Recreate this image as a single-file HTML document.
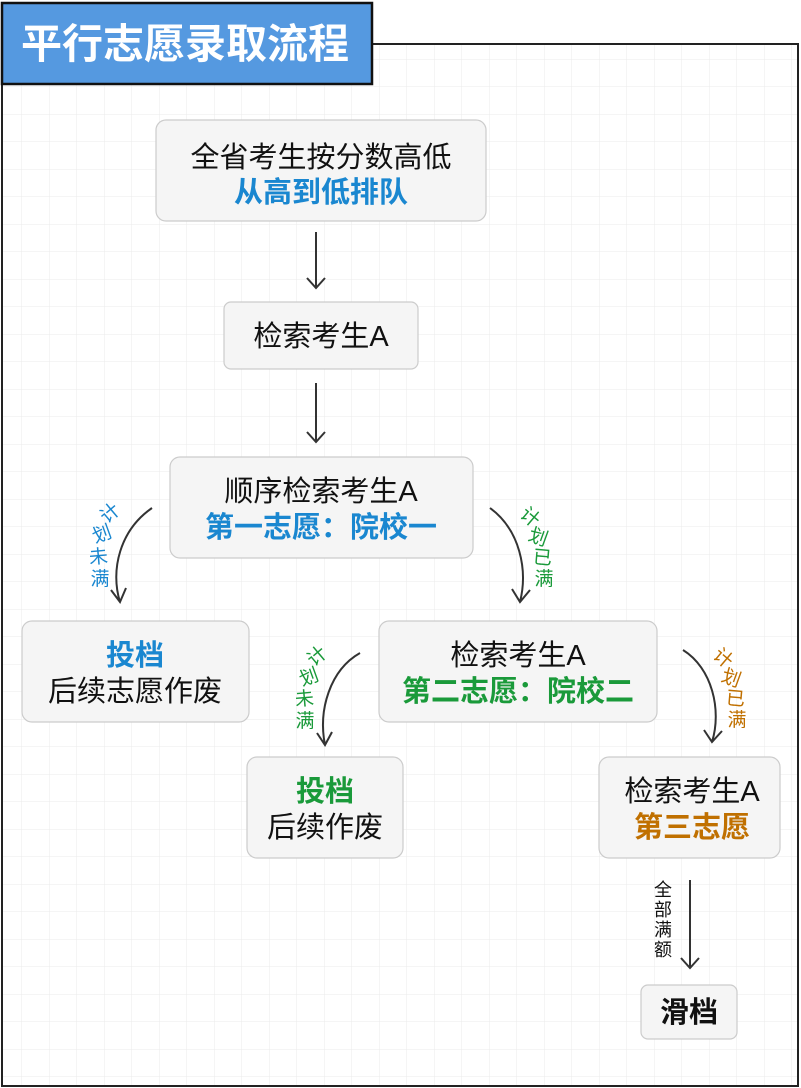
<!DOCTYPE html>
<html><head><meta charset="utf-8"><style>
html,body{margin:0;padding:0;background:#fff}
svg{display:block;font-family:"Liberation Sans","Noto Sans CJK SC",sans-serif}
</style></head><body>
<svg width="801" height="1088" viewBox="0 0 801 1088" xmlns="http://www.w3.org/2000/svg">
<defs>
<pattern id="g" width="27.5" height="27.5" patternUnits="userSpaceOnUse" x="21.5" y="4">
<path d="M0 0H27.5M0 0V27.5" stroke="#ebebeb" stroke-width="1" fill="none"/>
</pattern>
</defs>
<rect x="2" y="44" width="796" height="1042" fill="url(#g)" stroke="#222" stroke-width="2"/>
<rect x="2" y="3" width="370" height="81" fill="#5599e0" stroke="#111" stroke-width="2.5"/>
<text x="185" y="58" font-size="41" font-weight="bold" fill="#fff" text-anchor="middle">平行志愿录取流程</text>

<g fill="#f5f5f5" stroke="#cccccc" stroke-width="1.2">
<rect x="156" y="120" width="330" height="101" rx="10"/>
<rect x="224" y="302" width="194" height="67" rx="7"/>
<rect x="170" y="457" width="303" height="101" rx="10"/>
<rect x="22" y="621" width="227" height="101" rx="10"/>
<rect x="379" y="621" width="278" height="101" rx="10"/>
<rect x="247" y="757" width="156" height="101" rx="10"/>
<rect x="599" y="757" width="181" height="101" rx="10"/>
<rect x="641" y="985" width="96" height="54" rx="7"/>
</g>
<g font-size="29" text-anchor="middle" fill="#111">
<text x="321" y="167">全省考生按分数高低</text>
<text x="321" y="202" fill="#1a87d0" font-weight="bold">从高到低排队</text>
<text x="321" y="346">检索考生A</text>
<text x="321" y="501">顺序检索考生A</text>
<text x="321" y="537" fill="#1a87d0" font-weight="bold">第一志愿：院校一</text>
<text x="135" y="665" fill="#1a87d0" font-weight="bold">投档</text>
<text x="135" y="701">后续志愿作废</text>
<text x="518" y="665">检索考生A</text>
<text x="518" y="701" fill="#1a9a3a" font-weight="bold">第二志愿：院校二</text>
<text x="325" y="801" fill="#1a9a3a" font-weight="bold">投档</text>
<text x="325" y="837">后续作废</text>
<text x="692" y="801">检索考生A</text>
<text x="692" y="837" fill="#c07000" font-weight="bold">第三志愿</text>
<text x="689" y="1022" font-weight="bold">滑档</text>
</g>
<g stroke="#333" stroke-width="2" fill="none">
<path d="M316 232V288M307 278L316 288L325 278"/>
<path d="M316 383V442M307 432L316 442L325 432"/>
<path d="M152 508C120 530 110 570 120 602M111 590L120 602L126 588"/>
<path d="M490 508C520 530 528 570 520 602M512 589L520 602L530 590"/>
<path d="M360 653C330 670 318 710 325 745M317 733L325 745L332 732"/>
<path d="M683 650C712 668 722 710 712 742M704 730L712 742L722 731"/>
<path d="M690 880V968M681 958L690 968L699 958"/>
</g>
<g font-size="19" text-anchor="middle" fill="#1a87d0">
<text transform="translate(114,518) rotate(-40)">计</text>
<text transform="translate(104,540) rotate(-20)">划</text>
<text transform="translate(99,563) rotate(-5)">未</text>
<text transform="translate(100,585)">满</text>
</g>
<g font-size="19" text-anchor="middle" fill="#1a9a3a">
<text transform="translate(526,522) rotate(40)">计</text>
<text transform="translate(536,543) rotate(20)">划</text>
<text transform="translate(542,564) rotate(5)">已</text>
<text transform="translate(544,585)">满</text>
<text transform="translate(321,661) rotate(-40)">计</text>
<text transform="translate(311,683) rotate(-20)">划</text>
<text transform="translate(305,705) rotate(-5)">未</text>
<text transform="translate(305,727)">满</text>
</g>
<g font-size="19" text-anchor="middle" fill="#c07000">
<text transform="translate(719,663) rotate(40)">计</text>
<text transform="translate(729,684) rotate(20)">划</text>
<text transform="translate(735,705) rotate(5)">已</text>
<text transform="translate(737,726)">满</text>
</g>
<g font-size="18" text-anchor="middle" fill="#111">
<text x="663" y="896">全</text>
<text x="663" y="916">部</text>
<text x="663" y="936">满</text>
<text x="663" y="956">额</text>
</g>
</svg>
</body></html>
